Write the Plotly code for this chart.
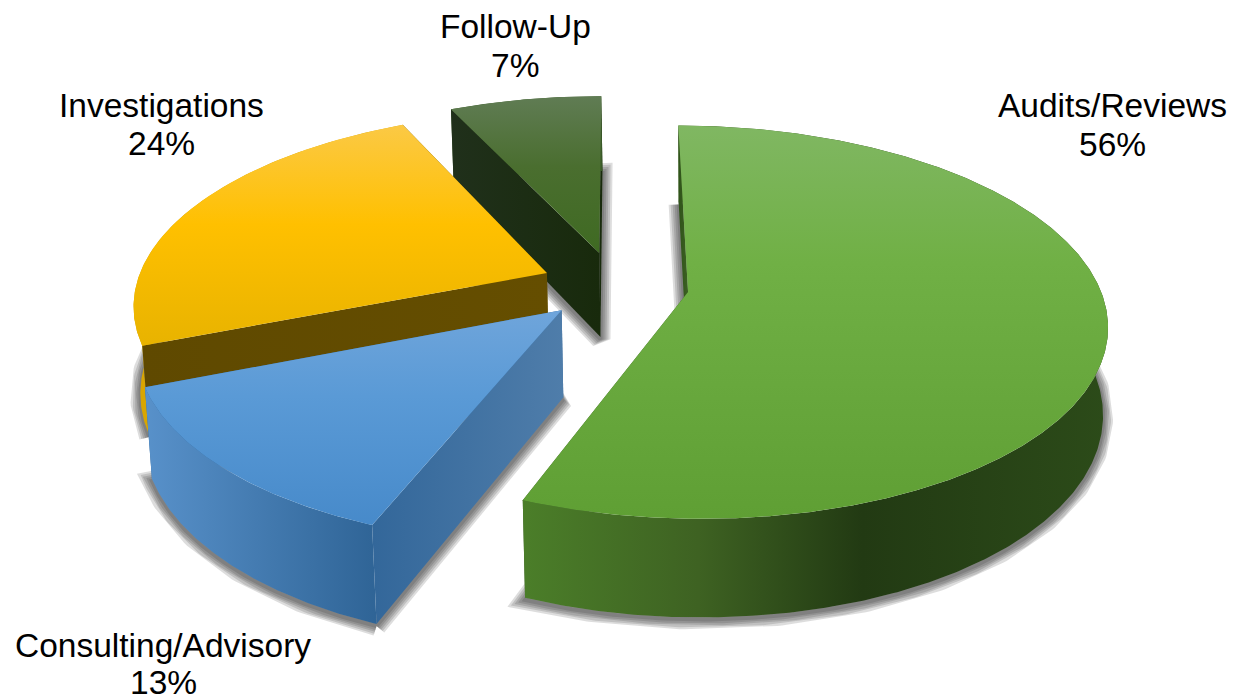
import numpy as np
import plotly.graph_objects as go

# Engagement mix, in percent, clockwise from the top of the pie
segments = ["Audits/Reviews", "Consulting/Advisory", "Investigations", "Follow-Up"]
shares = [56, 13, 24, 7]

top_colors = [
    [(0, "#80b762"), (0.35, "#70b045"), (1, "#5f9f34")],
    [(0, "#6fa5db"), (0.4, "#5a9ad6"), (1, "#478aca")],
    [(0, "#fbc945"), (0.45, "#ffc000"), (1, "#e8b300")],
    [(0, "#607c54"), (0.45, "#4a6e2f"), (1, "#3f6a22")],
]
wall_colors = [
    [(0, "#4b7e29"), (0.3, "#3e6222"), (0.58, "#223a13"), (1, "#2c4b19")],
    [(0, "#5891ca"), (1, "#2f6496")],
    [(0, "#d9a600"), (1, "#d9a600")],
    [(0, "#3a5a28"), (1, "#3a5a28")],
]
start_face_colors = [
    [(0, "#2f5219"), (1, "#3c6123")],
    [(0, "#33679a"), (1, "#4f7daa")],
    [(0, "#5f4900"), (1, "#654e00")],
    [(0, "#20301b"), (1, "#182a0c")],
]
end_face_colors = ["#3a5a28", "#33689b", "#654e00", "#182a0c"]
label_anchors = [(1112, 105, 144), (163, 645, 682), (161, 105, 143), (515, 26, 65)]

# Projection of the tilted disc on to the page
CX, CY = 615, 285.5
RX, RY = 411, 190
TILT = 0.153
EXPLODE = 0.18
THICKNESS = 87
BASE_SHRINK = 0.012
BASE_SHIFT = 1
START_ANGLE = 0


def project(u, v, base=False):
    w = 1 - TILT * v + (BASE_SHRINK if base else 0)
    x = CX + RX * u / w + (BASE_SHIFT if base else 0)
    return x, CY + (RY * v + (THICKNESS if base else 0)) / w


def disc_point(angle, radius, offset):
    a = np.radians(angle)
    return offset[0] + radius * np.sin(a), offset[1] - radius * np.cos(a)


def polygon(xs, ys, fill=None, gradient=None, direction="horizontal"):
    xs = list(xs) + [xs[0]]
    ys = list(ys) + [ys[0]]
    trace = dict(x=xs, y=ys, mode="lines", fill="toself", hoverinfo="skip",
                 showlegend=False, line=dict(width=0))
    if gradient:
        # The y axis runs downward, so vertical ramps are listed bottom first
        stops = gradient if direction == "horizontal" else [(1 - t, c) for t, c in reversed(gradient)]
        trace["fillgradient"] = dict(type=direction, colorscale=stops)
    else:
        trace["fillcolor"] = fill
    return go.Scatter(**trace)


fig = go.Figure()
total = sum(shares)
edges = START_ANGLE + np.concatenate([[0], np.cumsum(shares)]) * 360 / total

# Painted back to front: Follow-Up, Investigations, Consulting/Advisory, Audits/Reviews
for i in [3, 2, 1, 0]:
    a0, a1 = edges[i], edges[i + 1]
    mid = np.radians((a0 + a1) / 2)
    offset = (EXPLODE * np.sin(mid), -EXPLODE * np.cos(mid))
    arc = np.linspace(a0, a1, max(int(a1 - a0) * 2, 24))
    rim = [disc_point(a, 1, offset) for a in arc]

    top_x, top_y = zip(*[project(u, v) for u, v in rim])
    base_x, base_y = zip(*[project(u, v, True) for u, v in rim])
    apex_x, apex_y = project(*offset)
    base_apex_x, base_apex_y = project(*offset, True)

    # Soft drop shadow: a stack of wide translucent strokes round the slice's base
    sx = list(base_x) + [base_apex_x, base_x[0]]
    sy = [y + 2 for y in list(base_y) + [base_apex_y, base_y[0]]]
    for width in (20, 16, 12, 8, 4):
        fig.add_trace(go.Scatter(
            x=sx, y=sy, mode="lines", hoverinfo="skip", showlegend=False,
            line=dict(color="rgba(30,30,30,0.15)", width=width)))

    # The far radial face, then the wall, near radial face and top surface
    fig.add_trace(polygon([apex_x, top_x[-1], base_x[-1], base_apex_x],
                          [apex_y, top_y[-1], base_y[-1], base_apex_y],
                          fill=end_face_colors[i]))
    fig.add_trace(polygon(list(top_x) + list(base_x)[::-1],
                          list(top_y) + list(base_y)[::-1],
                          gradient=wall_colors[i]))
    fig.add_trace(polygon([apex_x, top_x[0], base_x[0], base_apex_x],
                          [apex_y, top_y[0], base_y[0], base_apex_y],
                          gradient=start_face_colors[i]))
    fig.add_trace(polygon([apex_x] + list(top_x), [apex_y] + list(top_y),
                          gradient=top_colors[i], direction="vertical"))

# Category and share captions
for name, share, (x, y_name, y_share) in zip(segments, shares, label_anchors):
    for text, y in ((name, y_name), (f"{share}%", y_share)):
        fig.add_annotation(x=x, y=y, text=text, showarrow=False,
                           xanchor="center", yanchor="middle",
                           font=dict(family="Liberation Sans, Arial, sans-serif",
                                     size=33.5, color="#000000"))

fig.update_layout(
    width=1249, height=698, margin=dict(l=0, r=0, t=0, b=0),
    paper_bgcolor="#ffffff", plot_bgcolor="#ffffff", showlegend=False,
    xaxis=dict(range=[0, 1249], visible=False, fixedrange=True),
    yaxis=dict(range=[698, 0], visible=False, fixedrange=True),
)
fig.write_html("out.html", config=dict(displayModeBar=False))
